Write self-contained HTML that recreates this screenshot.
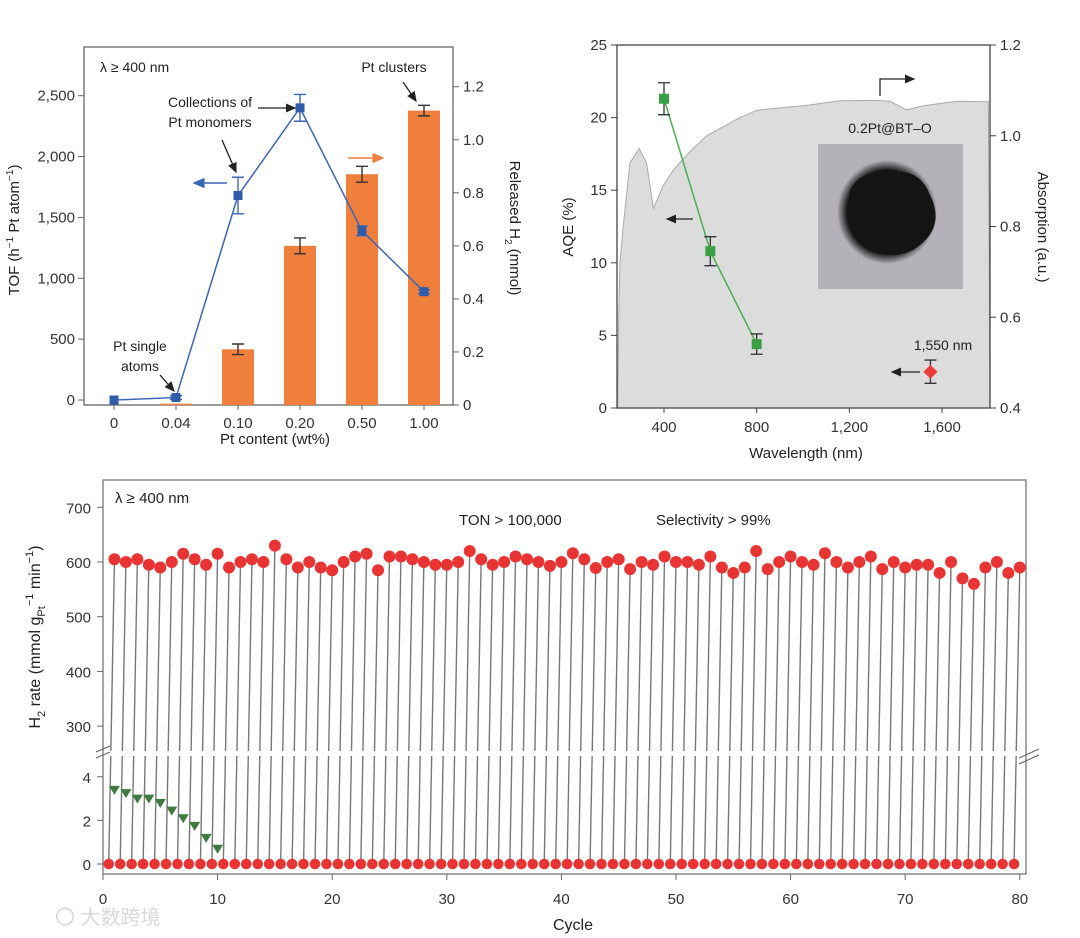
<!DOCTYPE html>
<html><head><meta charset="utf-8">
<style>
html,body{margin:0;padding:0;background:#fff;}
svg{display:block;font-family:"Liberation Sans","Noto Sans CJK SC",sans-serif;}
</style></head>
<body>
<svg id="fig" width="1080" height="938" viewBox="0 0 1080 938" xmlns="http://www.w3.org/2000/svg">
<defs>
<marker id="ahK" markerWidth="8" markerHeight="8" refX="7" refY="4" orient="auto"><path d="M0,0.5 L8,4 L0,7.5 z" fill="#222"/></marker>
<marker id="ahB" markerWidth="8" markerHeight="8" refX="7" refY="4" orient="auto"><path d="M0,0.5 L8,4 L0,7.5 z" fill="#3a66b8"/></marker>
<marker id="ahO" markerWidth="8" markerHeight="8" refX="7" refY="4" orient="auto"><path d="M0,0.5 L8,4 L0,7.5 z" fill="#f07f3c"/></marker>
<radialGradient id="blob" cx="0.5" cy="0.5" r="0.5"><stop offset="0.8" stop-color="#141414"/><stop offset="1" stop-color="#141414" stop-opacity="0"/></radialGradient>
</defs>
<g id="pa"></g>
<g id="pb"></g>
<g id="pc"></g>
<text x="55" y="924" font-size="20" fill="#d8d8d8">〇 大数跨境</text>
</svg>
<script>
// ---- Panel A data ----
const aCats = ["0","0.04","0.10","0.20","0.50","1.00"];
const aBarVals = [null,0.005,0.21,0.60,0.87,1.11];
const aBarErr = [0,0.005,0.02,0.03,0.03,0.02];
const aTof = [0,20,1680,2400,1390,890];
const aTofErr = [0,15,150,110,40,15];
const aLeftTicks = [0,500,1000,1500,2000,2500];
const aLeftLabels = ["0","500","1,000","1,500","2,000","2,500"];
const aRightTicks = [0,0.2,0.4,0.6,0.8,1.0,1.2];
const aRightLabels = ["0","0.2","0.4","0.6","0.8","1.0","1.2"];
// ---- Panel B data ----
const bAbsW = [200,205,210,224,253,293,325,354,397,440,512,584,656,728,800,872,1016,1160,1303,1375,1447,1519,1663,1800];
const bAbsV = [0.40,0.62,0.72,0.80,0.94,0.972,0.94,0.84,0.89,0.924,0.965,1.0,1.02,1.04,1.056,1.06,1.067,1.077,1.078,1.076,1.057,1.066,1.076,1.075];
const bAqeW = [400,600,800];
const bAqeV = [21.3,10.8,4.4];
const bAqeErr = [1.1,1.0,0.7];
const bIrW = [1550];
const bIrV = [2.5];
const bIrErr = [0.8];
const bXTicks = [400,800,1200,1600];
const bXLabels = ["400","800","1,200","1,600"];
const bLTicks = [0,5,10,15,20,25];
const bRTicks = [0.4,0.6,0.8,1.0,1.2];
// ---- Panel C data ----
const cRates = [605,600,605,595,590,600,615,605,595,615,590,600,605,600,630,605,590,600,590,585,600,610,615,585,610,610,605,600,595,595,600,620,605,595,600,610,605,
600,593,600,616,605,589,600,605,587,600,595,610,600,600,595,610,590,580,590,620,587,600,610,600,595,616,600,590,600,610,587,600,590,595,595,580,600,570,560,590,600,580,590];
const cRef = [3.4,3.25,3.0,3.0,2.8,2.45,2.1,1.75,1.2,0.7];
const cXTicks = [0,10,20,30,40,50,60,70,80];
const cUpTicks = [300,400,500,600,700];
const cLoTicks = [0,2,4];

const NS="http://www.w3.org/2000/svg";
function mk(parent,tag,attrs,text){const e=document.createElementNS(NS,tag);for(const k in attrs)e.setAttribute(k,attrs[k]);if(text!==undefined)e.textContent=text;parent.appendChild(e);return e;}

// ================= Panel A =================
(function(){
const g=document.getElementById('pa');
const L=84,R=453,T=47,B=405;
const xA=i=>114+i*62;
const yL=v=>400-v*(304.3/2500);
const yR=v=>405-v*(318.3/1.2);
let e=mk(g,'rect',{x:L,y:T,width:R-L,height:B-T,fill:'none',stroke:'#666','stroke-width':1.3});

aLeftTicks.forEach((v,i)=>{mk(g,'line',{x1:L-6,x2:L,y1:yL(v),y2:yL(v),stroke:'#666'});
 e=mk(g,'text',{x:L-9,y:yL(v)+5,'font-size':15,'text-anchor':'end',fill:'#333'},aLeftLabels[i]);
 });
aRightTicks.forEach((v,i)=>{mk(g,'line',{x1:R,x2:R+6,y1:yR(v),y2:yR(v),stroke:'#666'});
 e=mk(g,'text',{x:R+10,y:yR(v)+5,'font-size':15,fill:'#333'},aRightLabels[i]);
 });
aCats.forEach((c,i)=>{mk(g,'line',{x1:xA(i),x2:xA(i),y1:B,y2:B+5,stroke:'#666'});
 e=mk(g,'text',{x:xA(i),y:B+23,'font-size':15,'text-anchor':'middle',fill:'#333'},c);
 });
aBarVals.forEach((v,i)=>{if(v===null)return;
 e=mk(g,'rect',{x:xA(i)-16,y:yR(v),width:32,height:Math.max(B-yR(v),1.5),fill:'#f07f3c'});
 
 if(aBarErr[i]>0.006){const t=yR(v+aBarErr[i]),b=yR(v-aBarErr[i]);
  mk(g,'path',{d:`M${xA(i)-6},${t}H${xA(i)+6}M${xA(i)},${t}V${b}M${xA(i)-6},${b}H${xA(i)+6}`,stroke:'#333','stroke-width':1.4,fill:'none'});}
});
let d='';aTof.forEach((v,i)=>{d+=(i?'L':'M')+xA(i)+','+yL(v);});
e=mk(g,'path',{d:d,stroke:'#3a66b8','stroke-width':1.5,fill:'none'});

aTof.forEach((v,i)=>{const er=aTofErr[i];
 if(er>0){const t=yL(v+er),b=yL(v-er);mk(g,'path',{d:`M${xA(i)-6},${t}H${xA(i)+6}M${xA(i)},${t}V${b}M${xA(i)-6},${b}H${xA(i)+6}`,stroke:'#3a66b8','stroke-width':1.4,fill:'none'});}
 e=mk(g,'rect',{x:xA(i)-4.5,y:yL(v)-4.5,width:9,height:9,fill:'#2f5caa'});
 });
const tx=(x,y,s,anchor,name)=>{const t=mk(g,'text',{x:x,y:y,'font-size':14,fill:'#222','text-anchor':anchor||'start'},s);return t;};
tx(100,72,'λ ≥ 400 nm','start','wavelength-note');
tx(394,72,'Pt clusters','middle','pt-clusters-label');
tx(210,107,'Collections of','middle','monomers-label-1');
tx(210,127,'Pt monomers','middle','monomers-label-2');
tx(140,351,'Pt single','middle','single-atoms-label-1');
tx(140,371,'atoms','middle','single-atoms-label-2');
mk(g,'line',{x1:258,y1:108,x2:295,y2:108,stroke:'#222','stroke-width':1.3,'marker-end':'url(#ahK)'});
mk(g,'line',{x1:222,y1:140,x2:236,y2:172,stroke:'#222','stroke-width':1.3,'marker-end':'url(#ahK)'});
mk(g,'line',{x1:403,y1:82,x2:416,y2:101,stroke:'#222','stroke-width':1.3,'marker-end':'url(#ahK)'});
mk(g,'line',{x1:160,y1:375,x2:174,y2:391,stroke:'#222','stroke-width':1.3,'marker-end':'url(#ahK)'});
mk(g,'line',{x1:227,y1:183,x2:194,y2:183,stroke:'#3a66b8','stroke-width':1.5,'marker-end':'url(#ahB)'});
mk(g,'line',{x1:348,y1:158,x2:383,y2:158,stroke:'#f07f3c','stroke-width':1.5,'marker-end':'url(#ahO)'});
e=mk(g,'text',{x:275,y:444,'font-size':15,'text-anchor':'middle',fill:'#222'},'Pt content (wt%)');

e=mk(g,'text',{transform:'translate(19,230) rotate(-90)','font-size':15,'text-anchor':'middle',fill:'#222'});

e.innerHTML='TOF (h<tspan dy="-6" font-size="10">−1</tspan><tspan dy="6"> Pt atom</tspan><tspan dy="-6" font-size="10">−1</tspan><tspan dy="6">)</tspan>';
e=mk(g,'text',{transform:'translate(510,228) rotate(90)','font-size':15,'text-anchor':'middle',fill:'#222'});

e.innerHTML='Released H<tspan dy="5" font-size="10">2</tspan><tspan dy="-5"> (mmol)</tspan>';
})();

// ================= Panel B =================
(function(){
const g=document.getElementById('pb');
const L=617,R=990,T=45,B=408;
const xW=w=>664+(w-400)*0.2317;
const yA=v=>B-v*(363/25);
const yAb=v=>B-(v-0.4)*(363/0.8);
let d='M'+xW(bAbsW[0])+','+B;bAbsW.forEach((w,i)=>{d+='L'+xW(w)+','+yAb(bAbsV[i]);});d+='L'+R+','+B+'Z';
let e=mk(g,'path',{d:d,fill:'#dcdcdc',stroke:'#aaa','stroke-width':1});

e=mk(g,'rect',{x:L,y:T,width:R-L,height:B-T,fill:'none',stroke:'#444','stroke-width':1.3});

bLTicks.forEach(v=>{mk(g,'line',{x1:L-6,x2:L,y1:yA(v),y2:yA(v),stroke:'#444'});
 e=mk(g,'text',{x:L-10,y:yA(v)+5,'font-size':15,'text-anchor':'end',fill:'#333'},String(v));
 });
bRTicks.forEach(v=>{mk(g,'line',{x1:R,x2:R+6,y1:yAb(v),y2:yAb(v),stroke:'#444'});
 e=mk(g,'text',{x:R+10,y:yAb(v)+5,'font-size':15,fill:'#333'},v.toFixed(1));
 });
bXTicks.forEach((v,i)=>{mk(g,'line',{x1:xW(v),x2:xW(v),y1:B,y2:B+5,stroke:'#444'});
 e=mk(g,'text',{x:xW(v),y:B+24,'font-size':15,'text-anchor':'middle',fill:'#333'},bXLabels[i]);
 });
e=mk(g,'rect',{x:818,y:144,width:145,height:145,fill:'#b4b2b8'});

mk(g,'ellipse',{cx:887,cy:212,rx:50,ry:52,fill:'url(#blob)'});
mk(g,'path',{d:'M850,190 Q860,170 890,172 Q920,168 930,195 Q945,225 920,245 Q900,262 870,250 Q845,235 850,190Z',fill:'#141414'});
e=mk(g,'text',{x:890,y:133,'font-size':14,'text-anchor':'middle',fill:'#222'},'0.2Pt@BT–O');

let d2='';bAqeW.forEach((w,i)=>{d2+=(i?'L':'M')+xW(w)+','+yA(bAqeV[i]);});
e=mk(g,'path',{d:d2,stroke:'#4caf50','stroke-width':1.5,fill:'none'});

bAqeW.forEach((w,i)=>{const x=xW(w),t=yA(bAqeV[i]+bAqeErr[i]),b=yA(bAqeV[i]-bAqeErr[i]);
 mk(g,'path',{d:`M${x-6},${t}H${x+6}M${x},${t}V${b}M${x-6},${b}H${x+6}`,stroke:'#333','stroke-width':1.3,fill:'none'});
 e=mk(g,'rect',{x:x-5,y:yA(bAqeV[i])-5,width:10,height:10,fill:'#3aa047'});
 });
bIrW.forEach((w,i)=>{const x=xW(w),y=yA(bIrV[i]),t=yA(bIrV[i]+bIrErr[i]),b=yA(bIrV[i]-bIrErr[i]);
 mk(g,'path',{d:`M${x-6},${t}H${x+6}M${x},${t}V${b}M${x-6},${b}H${x+6}`,stroke:'#333','stroke-width':1.3,fill:'none'});
 e=mk(g,'path',{d:`M${x},${y-7}L${x+7},${y}L${x},${y+7}L${x-7},${y}Z`,fill:'#ee3b3b'});
 });
e=mk(g,'text',{x:943,y:350,'font-size':14,'text-anchor':'middle',fill:'#222'},'1,550 nm');

mk(g,'path',{d:'M880,96V79H914',stroke:'#222','stroke-width':1.3,fill:'none','marker-end':'url(#ahK)'});
mk(g,'line',{x1:693,y1:219,x2:667,y2:219,stroke:'#222','stroke-width':1.3,'marker-end':'url(#ahK)'});
mk(g,'line',{x1:920,y1:372,x2:892,y2:372,stroke:'#222','stroke-width':1.3,'marker-end':'url(#ahK)'});
e=mk(g,'text',{x:806,y:458,'font-size':15,'text-anchor':'middle',fill:'#222'},'Wavelength (nm)');

e=mk(g,'text',{transform:'translate(573,227) rotate(-90)','font-size':15,'text-anchor':'middle',fill:'#222'},'AQE (%)');

e=mk(g,'text',{transform:'translate(1038,227) rotate(90)','font-size':15,'text-anchor':'middle',fill:'#222'},'Absorption (a.u.)');

})();

// ================= Panel C =================
(function(){
const g=document.getElementById('pc');
const L=103,R=1026,T=480,B=874;
const xC=c=>103+c*11.46;
const yU=v=>562-(v-600)*0.547;
const yLo=v=>864-v*21.8;
let e=mk(g,'rect',{x:L,y:T,width:R-L,height:B-T,fill:'none',stroke:'#777','stroke-width':1.3});

cRates.forEach((v,i)=>{const c=i+1;
 e=mk(g,'line',{x1:xC(c),y1:yU(v),x2:xC(c-0.5),y2:864,stroke:'#777','stroke-width':1.4});
 });
mk(g,'rect',{x:L+1,y:751,width:R-L-2,height:5,fill:'#fff'});
mk(g,'path',{d:`M${L-7},752L${L+7},746M${L-7},758L${L+7},752`,stroke:'#666','stroke-width':1.2});
mk(g,'path',{d:`M${R-7},758L${R+13},749M${R-7},764L${R+13},755`,stroke:'#666','stroke-width':1.2});
cUpTicks.forEach(v=>{mk(g,'line',{x1:L-6,x2:L,y1:yU(v),y2:yU(v),stroke:'#666'});
 e=mk(g,'text',{x:L-12,y:yU(v)+6,'font-size':15,'text-anchor':'end',fill:'#333'},String(v));
 });
cLoTicks.forEach(v=>{mk(g,'line',{x1:L-6,x2:L,y1:yLo(v),y2:yLo(v),stroke:'#666'});
 e=mk(g,'text',{x:L-12,y:yLo(v)+6,'font-size':15,'text-anchor':'end',fill:'#333'},String(v));
 });
cXTicks.forEach(v=>{mk(g,'line',{x1:xC(v),x2:xC(v),y1:B,y2:B+6,stroke:'#666'});
 e=mk(g,'text',{x:xC(v),y:B+30,'font-size':15,'text-anchor':'middle',fill:'#333'},String(v));
 });
cRates.forEach((v,i)=>{e=mk(g,'circle',{cx:xC(i+0.5),cy:yLo(0),r:5.3,fill:'#e93434'});
 });
cRates.forEach((v,i)=>{e=mk(g,'circle',{cx:xC(i+1),cy:yU(v),r:6,fill:'#e93434'});
 });
cRef.forEach((v,i)=>{const x=xC(i+1),y=yLo(v);
 e=mk(g,'path',{d:`M${x-5.5},${y-4}L${x+5.5},${y-4}L${x},${y+5}Z`,fill:'#3f7a3f'});
 });
const tx=(x,y,s,anchor,name,fs)=>{const t=mk(g,'text',{x:x,y:y,'font-size':fs||15,fill:'#222','text-anchor':anchor||'start'},s);};
tx(115,503,'λ ≥ 400 nm','start','wavelength-note');
tx(459,525,'TON > 100,000','start','ton-note');
tx(656,525,'Selectivity > 99%','start','selectivity-note');
tx(573,930,'Cycle','middle','cycle-axis-title',16);
e=mk(g,'text',{transform:'translate(40,637) rotate(-90)','font-size':16,'text-anchor':'middle',fill:'#222'});

e.innerHTML='H<tspan dy="5" font-size="11">2</tspan><tspan dy="-5"> rate (mmol g</tspan><tspan dy="5" font-size="11">Pt</tspan><tspan dy="-12" font-size="11">−1</tspan><tspan dy="7"> min</tspan><tspan dy="-7" font-size="11">−1</tspan><tspan dy="7">)</tspan>';
})();
</script>
</body></html>
